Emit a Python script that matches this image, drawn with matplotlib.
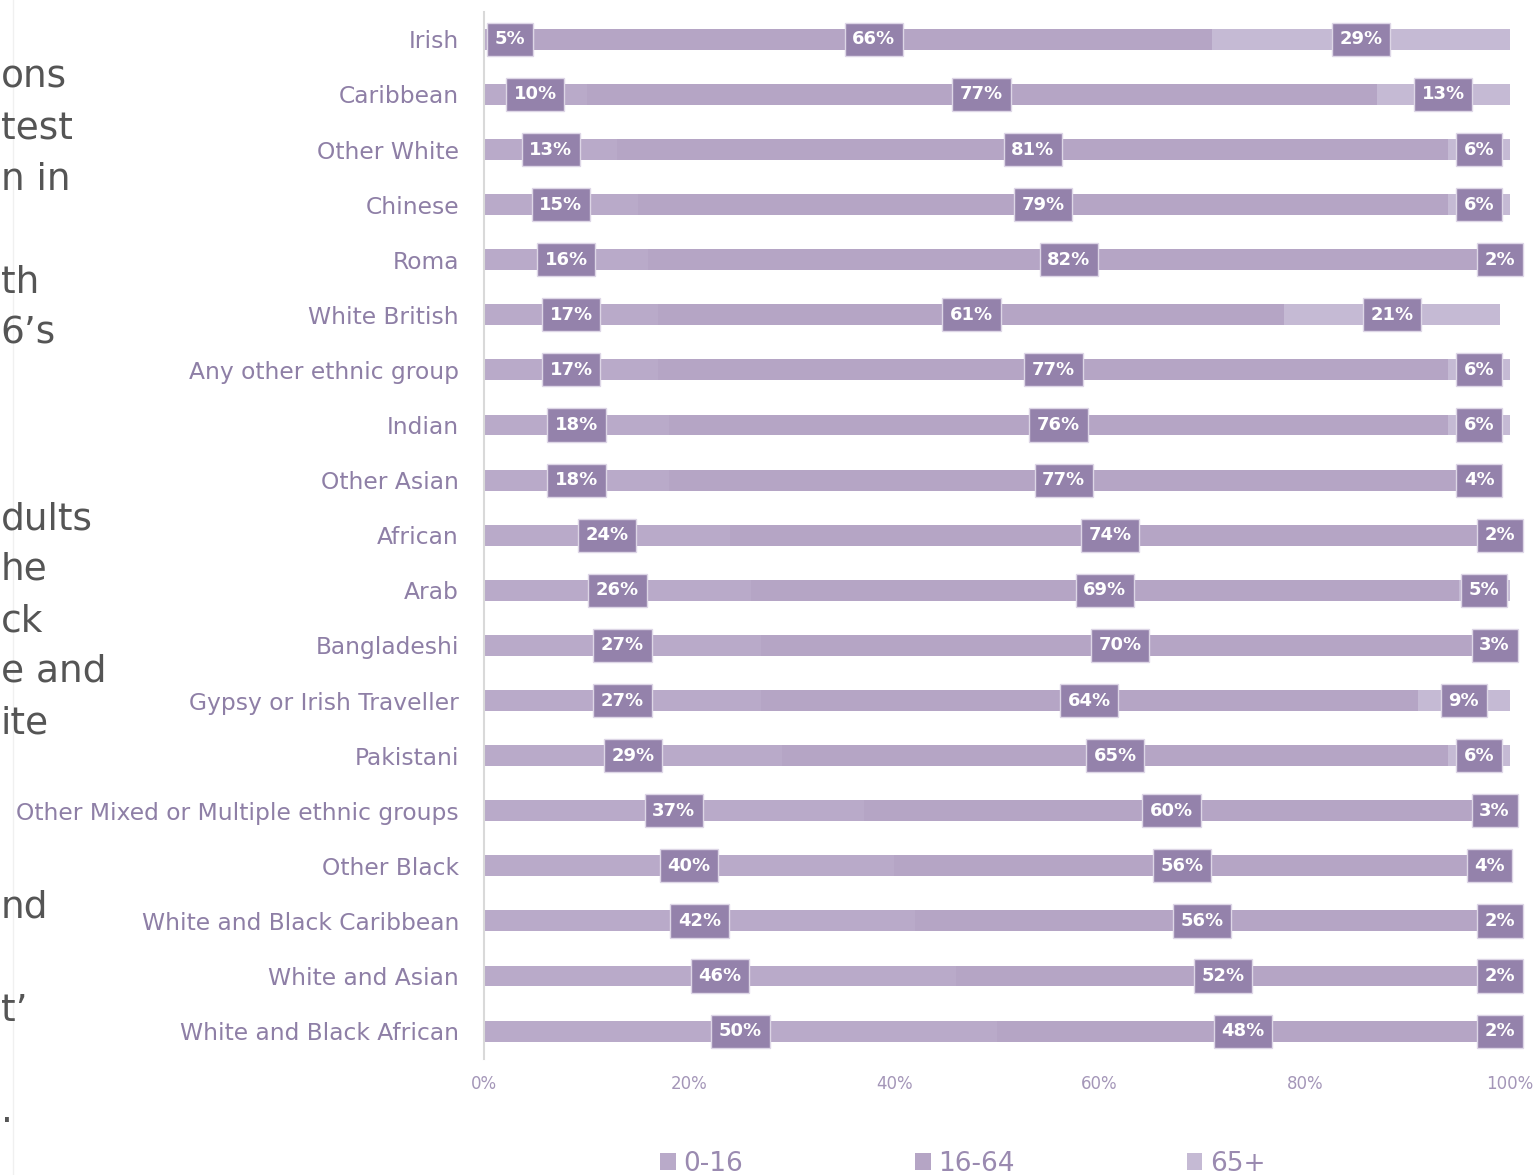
import matplotlib.pyplot as plt
import numpy as np

groups = ['Irish', 'Caribbean', 'Other White', 'Chinese', 'Roma', 'White British',
          'Any other ethnic group', 'Indian', 'Other Asian', 'African', 'Arab',
          'Bangladeshi', 'Gypsy or Irish Traveller', 'Pakistani',
          'Other Mixed or Multiple ethnic groups', 'Other Black',
          'White and Black Caribbean', 'White and Asian', 'White and Black African']
age_0_16 = [5, 10, 13, 15, 16, 17, 17, 18, 18, 24, 26, 27, 27, 29, 37, 40, 42, 46, 50]
age_16_64 = [66, 77, 81, 79, 82, 61, 77, 76, 77, 74, 69, 70, 64, 65, 60, 56, 56, 52, 48]
age_65 = [29, 13, 6, 6, 2, 21, 6, 6, 4, 2, 5, 3, 9, 6, 3, 4, 2, 2, 2]
series_names = ['0-16', '16-64', '65+']

# cut-off slide text on the left
side_text = [('ons', 78), ('test', 129), ('n in', 180), ('th', 283), ('6\u2019s', 334),
             ('dults', 519), ('he', 570), ('ck', 621), ('e and', 672), ('ite', 723),
             ('nd', 908), ('t\u2019', 1011), ('.', 1112)]

colors = ['#b9aac9', '#b5a5c5', '#c5bad4']
box_col = '#9482ab'
lab_col = '#8e7fa6'

fig = plt.figure(figsize=(15.38, 11.75), dpi=100)
ax = fig.add_axes([0.3147, 0.099, 0.6671, 0.891])

y = np.arange(len(groups))
data = [np.array(age_0_16), np.array(age_16_64), np.array(age_65)]
left = np.zeros(len(groups))
for vals, c, name in zip(data, colors, series_names):
    ax.barh(y, vals / 100, left=left, height=0.38, color=c, label=name)
    for yi, v, l in zip(y, vals, left):
        ax.text(l + v / 200, yi, f'{v}%', ha='center', va='center', color='white',
                fontsize=13, fontweight='bold',
                bbox=dict(boxstyle='square,pad=0.42', fc=box_col, ec='#ddd6e6', lw=1))
    left = left + vals / 100

ax.set_ylim(len(groups) - 0.5, -0.5)
ax.set_xlim(0, 1)
ax.set_yticks(y)
ax.set_yticklabels(groups, fontsize=16.8, color=lab_col)
ax.set_xticks(np.linspace(0, 1, 6))
ax.set_xticklabels([f'{int(t)}%' for t in np.linspace(0, 100, 6)], fontsize=12,
                   color='#a496b8')
ax.tick_params(axis='y', length=0, pad=18)
ax.tick_params(axis='x', length=0, pad=12)
for s in ['top', 'right', 'bottom']:
    ax.spines[s].set_visible(False)
ax.spines['left'].set_color('#d9d9d9')
ax.spines['left'].set_linewidth(1.5)

leg = fig.legend(loc='lower center', bbox_to_anchor=(0.626, -0.022), ncol=3,
                 frameon=False, fontsize=19, handlelength=0.6, handleheight=0.6,
                 columnspacing=6.5, handletextpad=0.3)
for t in leg.get_texts():
    t.set_color('#9a8ab0')

for txt, py in side_text:
    fig.text(0.0005, 1 - py / 1175, txt, fontsize=27, color='#555555',
             ha='left', va='center')
fig.add_artist(plt.Line2D([0.0085, 0.0085], [0, 1], color='#f0f0f0', lw=1))

fig.savefig('out.png', dpi=100)
